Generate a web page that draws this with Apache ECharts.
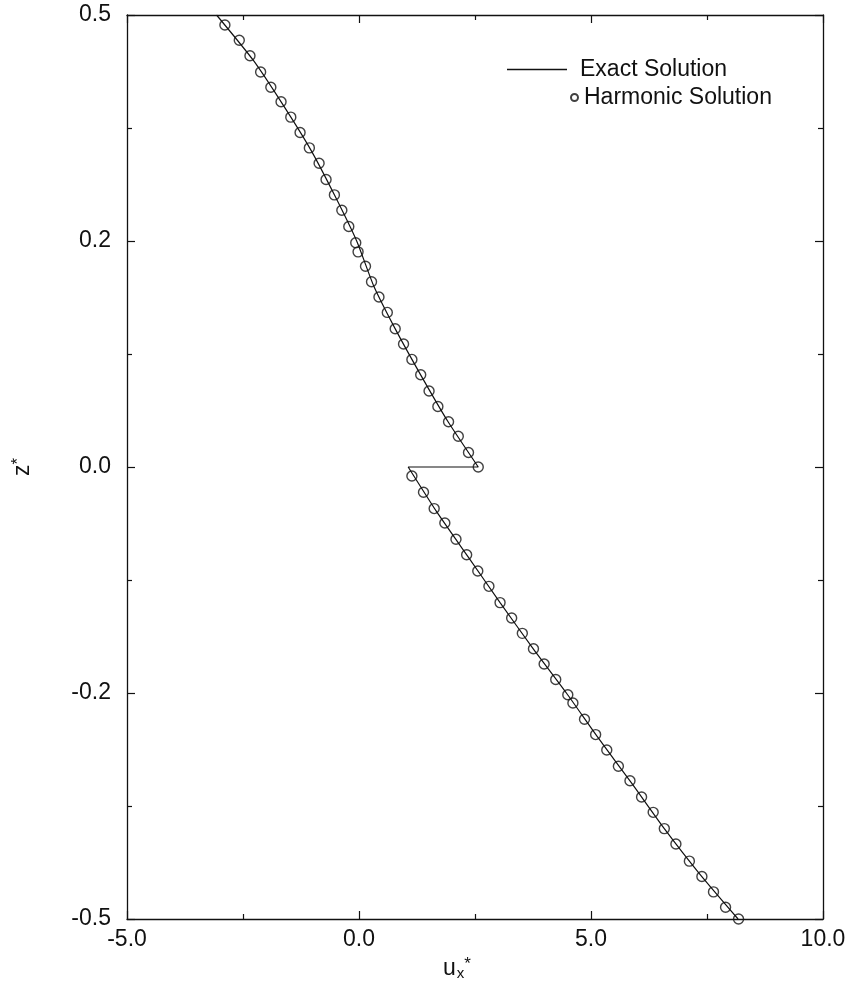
<!DOCTYPE html>
<html>
<head>
<meta charset="utf-8">
<script src="https://cdn.jsdelivr.net/npm/echarts@6/dist/echarts.min.js"></script>
<style>
    body { margin: 0; background: #fff; }
    #chart { width: 850px; height: 994px; }
</style>
</head>
<body>
<div id="chart"></div>
<script>
// harmonic solution points, upper branch then lower branch
var harmonicU = [-2.89, -2.58, -2.35, -2.12, -1.90, -1.68, -1.47, -1.27, -1.07, -0.86,
    -0.71, -0.53, -0.37, -0.22, -0.07, -0.02, 0.14, 0.27, 0.43, 0.61,
    0.78, 0.96, 1.14, 1.33, 1.51, 1.70, 1.93, 2.14, 2.36, 2.57,
    1.14, 1.39, 1.62, 1.85, 2.09, 2.32, 2.56, 2.80, 3.04, 3.29,
    3.52, 3.76, 3.99, 4.24, 4.50, 4.61, 4.86, 5.10, 5.34, 5.59,
    5.84, 6.09, 6.34, 6.58, 6.83, 7.12, 7.39, 7.64, 7.90, 8.18];
var harmonicZ = [0.489, 0.472, 0.455, 0.437, 0.420, 0.404, 0.387, 0.370, 0.353, 0.336,
    0.318, 0.301, 0.284, 0.266, 0.248, 0.238, 0.222, 0.205, 0.188, 0.171,
    0.153, 0.136, 0.119, 0.102, 0.084, 0.067, 0.050, 0.034, 0.016, 0.000,
    -0.010, -0.028, -0.046, -0.062, -0.080, -0.097, -0.115, -0.132, -0.150, -0.167,
    -0.184, -0.201, -0.218, -0.235, -0.252, -0.261, -0.279, -0.296, -0.313, -0.331,
    -0.347, -0.365, -0.382, -0.400, -0.417, -0.436, -0.453, -0.470, -0.487, -0.500];

// exact solution, drawn as one path: upper branch, jump at z=0, lower branch
var exactU = [-3.07, -2.28, -1.63, -1.03, -0.52, -0.05, 0.32, 0.81, 1.35, 1.92, 2.57,
    1.06, 1.68, 2.36, 3.04, 3.74, 4.47, 5.16, 5.88, 6.58, 7.34, 8.17];
var exactZ = [0.50, 0.45, 0.40, 0.35, 0.30, 0.25, 0.20, 0.15, 0.10, 0.05, 0.00,
    0.00, -0.05, -0.10, -0.15, -0.20, -0.25, -0.30, -0.35, -0.40, -0.45, -0.50];

// tick labels
var xTickValues = [-5, 0, 5, 10];
var xTickLabels = ["-5.0", "0.0", "5.0", "10.0"];
var yTickValues = [-0.5, -0.25, 0, 0.25, 0.5];
var yTickLabels = ["-0.5", "-0.2", "0.0", "0.2", "0.5"];

var ink = "#111";
var font = "'Liberation Sans', Arial, sans-serif";

// find a label for a tick value, empty if there is none
function tickLabel(values, labels, v) {
    for (var i = 0; i < values.length; i++) {
        if (Math.abs(values[i] - v) < 1e-6) return labels[i];
    }
    return "";
}

function pairs(xs, ys) {
    var out = [];
    for (var i = 0; i < xs.length; i++) out.push([xs[i], ys[i]]);
    return out;
}

// shared look for the four frame axes
function frameAxis(pos, showLabel, isX) {
    return {
        type: "value",
        position: pos,
        min: isX ? -5 : -0.5,
        max: isX ? 10 : 0.5,
        interval: isX ? 5 : 0.25,
        splitLine: { show: false },
        axisLine: { show: true, onZero: false, lineStyle: { color: ink, width: 1.3 } },
        axisTick: { show: true, inside: true, length: 8, lineStyle: { color: ink, width: 1.2 } },
        minorTick: { show: true, splitNumber: 2, length: 5, lineStyle: { color: ink, width: 1.2 } },
        axisLabel: {
            show: showLabel,
            color: ink,
            fontFamily: font,
            fontSize: 23,
            margin: isX ? 9 : 16,
            formatter: function (v) {
                return isX ? tickLabel(xTickValues, xTickLabels, v) : tickLabel(yTickValues, yTickLabels, v);
            }
        }
    };
}

var chart = echarts.init(document.getElementById("chart"));

var xMain = frameAxis("bottom", true, true);
xMain.name = "u{sub|x}{sup|*}";
xMain.nameLocation = "middle";
xMain.nameGap = 36;
xMain.nameTextStyle = {
    color: ink, fontFamily: font, fontSize: 23, padding: [0, 36, 0, 0],
    rich: {
        sub: { fontSize: 15, fontFamily: font, color: ink, verticalAlign: "bottom", padding: [8, 0, 0, 1] },
        sup: { fontSize: 17, fontFamily: font, color: ink, verticalAlign: "top", padding: [0, 0, 8, 0] }
    }
};

var yMain = frameAxis("left", true, false);
yMain.name = "z{sup|*}";
yMain.nameLocation = "middle";
yMain.nameGap = 92;
yMain.nameTextStyle = {
    color: ink, fontFamily: font, fontSize: 23,
    rich: {
        sup: { fontSize: 17, fontFamily: font, color: ink, verticalAlign: "top", padding: [0, 0, 8, 0] }
    }
};

var option = {
    backgroundColor: "#fff",
    animation: false,
    grid: { left: 127, right: 27, top: 15, bottom: 75 },
    legend: [
        {
            left: 502, top: 53,
            itemWidth: 60, itemHeight: 1.5,
            textStyle: { color: ink, fontFamily: font, fontSize: 23, padding: [0, 0, 0, 8] },
            data: [{ name: "Exact Solution", icon: "rect", itemStyle: { color: ink } }]
        },
        {
            left: 565, top: 81,
            itemWidth: 7, itemHeight: 7,
            textStyle: { color: ink, fontFamily: font, fontSize: 23, padding: [0, 0, 0, 1] },
            data: [{ name: "Harmonic Solution", icon: "circle" }]
        }
    ],
    xAxis: [xMain, frameAxis("top", false, true)],
    yAxis: [yMain, frameAxis("right", false, false)],
    series: [
        {
            name: "Exact Solution",
            type: "line",
            data: pairs(exactU, exactZ),
            symbol: "none",
            smooth: 0.2,
            lineStyle: { color: ink, width: 1.2 },
            itemStyle: { color: ink },
            z: 2
        },
        {
            name: "Harmonic Solution",
            type: "scatter",
            data: pairs(harmonicU, harmonicZ),
            symbol: "circle",
            symbolSize: 10,
            itemStyle: { color: "rgba(255,255,255,0)", borderColor: ink, borderWidth: 1.4 },
            z: 3
        }
    ]
};
chart.setOption(option);
</script>
</body>
</html>
